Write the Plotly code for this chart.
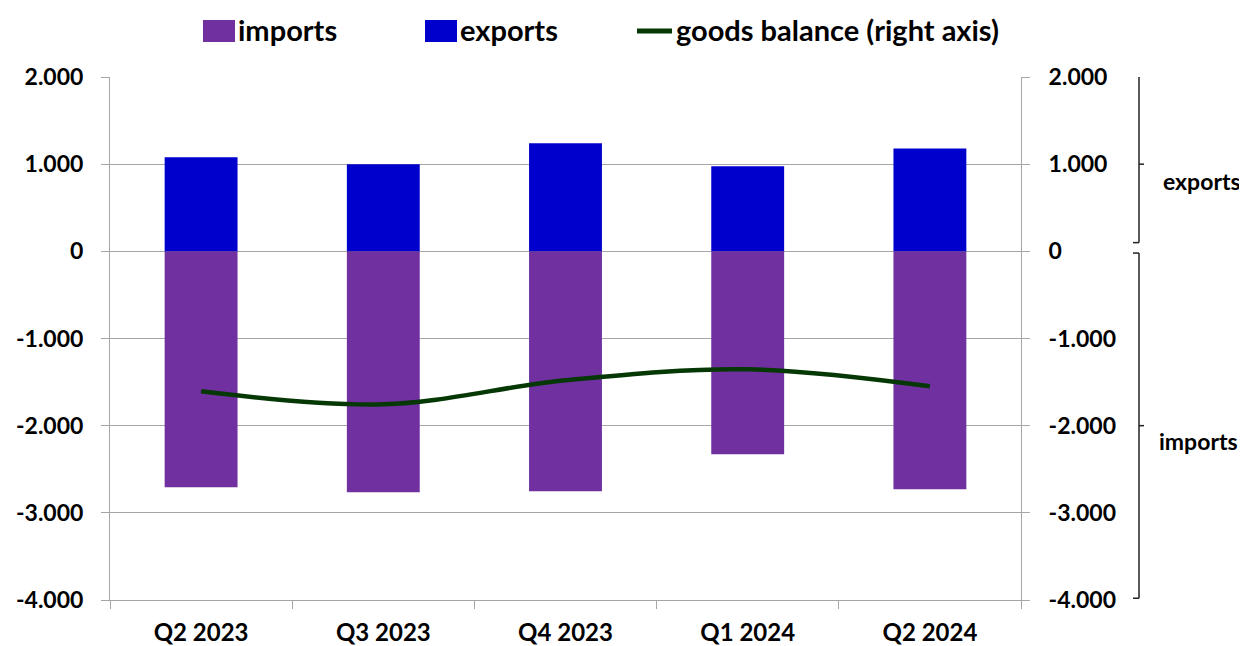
import plotly.graph_objects as go

quarters = ["Q2 2023", "Q3 2023", "Q4 2023", "Q1 2024", "Q2 2024"]
imports = [-2706, -2764, -2752, -2328, -2729]
exports = [1078, 998, 1239, 975, 1181]
balance = [-1606, -1755, -1479, -1353, -1548]
tick_vals = [2000, 1000, 0, -1000, -2000, -3000, -4000]
tick_text = ["2.000", "1.000", "0", "-1.000", "-2.000", "-3.000", "-4.000"]

C_IMP = "#7030A0"
C_EXP = "#0000CC"
C_BAL = "#053805"
GRID = "#a6a6a6"
FONT = "Lato"

fig = go.Figure()
fig.add_trace(go.Bar(x=quarters, y=imports, name="imports", marker=dict(color=C_IMP, line=dict(width=0)), width=0.4))
fig.add_trace(go.Bar(x=quarters, y=exports, name="exports", marker=dict(color=C_EXP, line=dict(width=0)), width=0.4))
fig.add_trace(go.Scatter(x=quarters, y=balance, name="goods balance (right axis)", mode="lines",
                         line=dict(color=C_BAL, width=4.5, shape="spline", smoothing=1.0), yaxis="y2"))

axis_common = dict(range=[-4000, 2000], tickvals=tick_vals, ticktext=tick_text, automargin=False,
                   tickfont=dict(family=FONT, size=23, color="black", weight="bold"),
                   ticks="outside", ticklen=8, tickcolor=GRID, showline=True, linecolor=GRID,
                   linewidth=1, zeroline=False)

# page has an 8px body margin
fig.update_layout(
    width=1239, height=638,
    margin=dict(l=102, r=226, t=69, b=46),
    paper_bgcolor="white", plot_bgcolor="white",
    barmode="relative", bargap=0.6,
    showlegend=False,
    font=dict(family=FONT, color="black"),
    xaxis=dict(type="category", tickson="boundaries", ticks="outside", ticklen=8, tickcolor=GRID,
               showline=True, linecolor=GRID, linewidth=1, showgrid=False, ticklabelstandoff=11,
               automargin=False,
               tickfont=dict(family=FONT, size=24, color="black", weight="bold")),
    yaxis=dict(**axis_common, showgrid=True, gridcolor=GRID, gridwidth=1, ticklabelstandoff=13),
    yaxis2=dict(**axis_common, overlaying="y", side="right", showgrid=False, ticklabelstandoff=14),
)

# custom legend (page pixel -> paper coordinates)
def px_x(p):
    return (p - 110) / 911.0

def px_y(p):
    return (600 - p) / 523.0

legend_items = [
    ("rect", C_IMP, 203, 235, "imports", 236),
    ("rect", C_EXP, 425, 457, "exports", 458),
    ("line", C_BAL, 637, 672, "goods balance (right axis)", 674),
]
for kind, col, x0, x1, label, tx in legend_items:
    if kind == "rect":
        fig.add_shape(type="rect", xref="paper", yref="paper", x0=px_x(x0), x1=px_x(x1),
                      y0=px_y(42), y1=px_y(20), fillcolor=col, line=dict(width=0))
    else:
        fig.add_shape(type="line", xref="paper", yref="paper", x0=px_x(x0), x1=px_x(x1),
                      y0=px_y(31), y1=px_y(31), line=dict(color=col, width=5))
    fig.add_annotation(x=px_x(tx), y=px_y(30), xref="paper", yref="paper", text=label,
                       showarrow=False, xanchor="left", yanchor="middle",
                       font=dict(family=FONT, size=29, color="black", weight="bold"))

# braces on the right
def brace(top, bottom, tip):
    xl, xv, xt = px_x(1133), px_x(1139), px_x(1144)
    seg = [(xl, top, xv, top), (xv, top, xv, bottom), (xl, bottom, xv, bottom), (xv, tip, xt, tip)]
    for a, b, c, d in seg:
        fig.add_shape(type="line", xref="paper", yref="y", x0=a, y0=b, x1=c, y1=d,
                      line=dict(color="#222222", width=1.5))

brace(2080, 100, 1000)
brace(-20, -3980, -2000)
fig.add_annotation(x=px_x(1161), y=810, xref="paper", yref="y", text="exports", showarrow=False,
                   xanchor="left", yanchor="middle", font=dict(family=FONT, size=23, color="black", weight="bold"))
fig.add_annotation(x=px_x(1157), y=-2180, xref="paper", yref="y", text="imports", showarrow=False,
                   xanchor="left", yanchor="middle", font=dict(family=FONT, size=23, color="black", weight="bold"))

fig.write_html("out.html")
